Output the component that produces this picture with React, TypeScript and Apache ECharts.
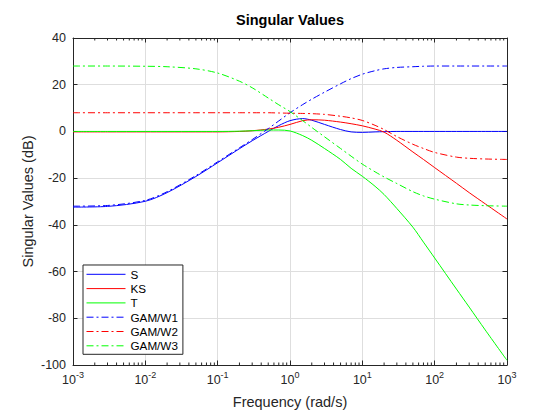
import React, { useEffect, useRef } from "react";
import * as echarts from "echarts";

// Frequency grid (rad/s)
const FREQ = [0.001, 0.003, 0.01, 0.02, 0.05, 0.1, 0.2, 0.3, 0.5, 0.7, 1, 1.5, 2, 3, 5, 7, 10, 15, 20, 30, 50, 70, 100, 200, 300, 500, 1000];

// Singular values (dB)
const S_DB = [-32.4, -32.1, -29.9, -26.2, -19.3, -13.4, -7.4, -4.0, 0.0, 2.5, 4.6, 5.5, 4.8, 3.0, 0.8, -0.2, -0.4, -0.2, -0.1, 0, 0, 0, 0, 0, 0, 0, 0];
const KS_DB = [-0.2, -0.2, -0.2, -0.2, -0.2, -0.2, 0, 0.3, 1.0, 1.8, 3.0, 4.6, 5.0, 4.8, 4.0, 3.3, 2.4, 1.0, -0.3, -3.8, -8.8, -12, -15.5, -22.2, -26.2, -31, -37.5];
const T_DB = [0, 0, 0, 0, 0, 0, 0.1, 0.3, 0.6, 0.6, 0.2, -1.8, -3.8, -7.3, -12, -15.8, -19.2, -23.5, -27, -33, -41, -47.4, -54.2, -67.5, -75.2, -85, -98];
const W1_DB = [-32.0, -31.7, -29.5, -25.8, -18.9, -13.0, -7.0, -3.5, 1.2, 4.5, 8.0, 11.5, 13.8, 16.8, 20.4, 22.6, 24.5, 26.0, 26.8, 27.4, 27.7, 27.9, 28, 28, 28, 28, 28];
const W2_DB = [8, 8, 8, 8, 8, 8, 8, 8, 8, 7.9, 7.8, 7.7, 7.6, 7.3, 6.5, 5.8, 4.7, 2.6, 0.8, -2.2, -5.5, -7.3, -9.0, -11, -11.5, -11.8, -12];
const W3_DB = [28, 28, 27.9, 27.7, 26.8, 25, 21.5, 18.7, 14.3, 11.4, 8.5, 4.6, 1.7, -2.3, -7.3, -10.6, -14, -17.3, -19.5, -22.3, -25.8, -27.6, -29, -31, -31.5, -31.8, -32];

const SERIES_NAMES = ["S", "KS", "T", "GAM/W1", "GAM/W2", "GAM/W3"];
const SERIES_COLORS = ["#0000ff", "#ff0000", "#00ff00", "#0000ff", "#ff0000", "#00ff00"];
const SERIES_DATA = [S_DB, KS_DB, T_DB, W1_DB, W2_DB, W3_DB];
const SERIES_DASHED = [false, false, false, true, true, true];

// Axes
const X_DECADE_MIN = -3;
const X_DECADE_MAX = 3;
const Y_MIN = -100;
const Y_MAX = 40;
const Y_STEP = 20;

const FONT = "'Liberation Sans', Arial, Helvetica, sans-serif";
const AXIS_COLOR = "#262626";
const GRID_COLOR = "#dedede";
const DASH_DOT = [7, 3, 2, 3];

const MINOR_TICKS: number[] = [];
for (let d = X_DECADE_MIN; d < X_DECADE_MAX; d++) {
  for (let k = 2; k <= 9; k++) MINOR_TICKS.push(d + Math.log10(k));
}

export default function App() {
  const ref = useRef<HTMLDivElement>(null);
  useEffect(() => {
    const chart = echarts.init(ref.current!, null, { renderer: "svg" });
    const lineSeries = SERIES_NAMES.map((name, i) => ({
      name,
      type: "line",
      xAxisIndex: 0,
      yAxisIndex: 0,
      data: FREQ.map((f, j) => [Math.log10(f), SERIES_DATA[i][j]]),
      symbol: "none",
      showSymbol: false,
      smooth: 0.3,
      z: 5 + i,
      lineStyle: {
        color: SERIES_COLORS[i],
        width: 1,
        type: SERIES_DASHED[i] ? DASH_DOT : "solid",
      },
      itemStyle: { color: SERIES_COLORS[i] },
    }));

    const option: any = {
      animation: false,
      backgroundColor: "#ffffff",
      grid: { left: 73, right: 53, top: 38, bottom: 55, containLabel: false },
      xAxis: [
        {
          type: "value",
          min: X_DECADE_MIN,
          max: X_DECADE_MAX,
          interval: 1,
          position: "bottom",
          axisLine: { show: true, onZero: false, lineStyle: { color: AXIS_COLOR, width: 1 } },
          axisTick: { show: true, inside: true, length: 4.5, lineStyle: { color: AXIS_COLOR } },
          splitLine: { show: true, lineStyle: { color: GRID_COLOR, width: 1 } },
          axisLabel: {
            show: true,
            margin: 5,
            showMinLabel: true,
            showMaxLabel: true,
            formatter: (v: number) => `{b|10}{s|${Math.round(v)}}`,
            rich: {
              b: { fontSize: 12.5, color: AXIS_COLOR, fontFamily: FONT },
              s: { fontSize: 9, color: AXIS_COLOR, fontFamily: FONT, padding: [0, 0, 10, 0] },
            },
          },
        },
        {
          type: "value",
          min: X_DECADE_MIN,
          max: X_DECADE_MAX,
          interval: 1,
          position: "top",
          axisLine: { show: true, onZero: false, lineStyle: { color: AXIS_COLOR, width: 1 } },
          axisTick: { show: true, inside: true, length: 4.5, lineStyle: { color: AXIS_COLOR } },
          splitLine: { show: false },
          axisLabel: { show: false },
        },
      ],
      yAxis: [
        {
          type: "value",
          min: Y_MIN,
          max: Y_MAX,
          interval: Y_STEP,
          position: "left",
          axisLine: { show: true, onZero: false, lineStyle: { color: AXIS_COLOR, width: 1 } },
          axisTick: { show: true, inside: true, length: 4.5, lineStyle: { color: AXIS_COLOR } },
          splitLine: { show: true, lineStyle: { color: GRID_COLOR, width: 1 } },
          axisLabel: { show: true, margin: 7, fontSize: 12.5, color: AXIS_COLOR, fontFamily: FONT },
        },
        {
          type: "value",
          min: Y_MIN,
          max: Y_MAX,
          interval: Y_STEP,
          position: "right",
          axisLine: { show: true, onZero: false, lineStyle: { color: AXIS_COLOR, width: 1 } },
          axisTick: { show: true, inside: true, length: 4.5, lineStyle: { color: AXIS_COLOR } },
          splitLine: { show: false },
          axisLabel: { show: false },
        },
      ],
      legend: {
        orient: "vertical",
        left: 83,
        top: 265,
        padding: [3.3, 5, 2.5, 3],
        itemWidth: 39,
        itemHeight: 10,
        itemGap: 2.3,
        borderColor: AXIS_COLOR,
        borderWidth: 1,
        borderRadius: 0,
        backgroundColor: "#ffffff",
        itemStyle: { opacity: 0 },
        lineStyle: { width: 1 },
        textStyle: { fontSize: 11.7, color: "#000000", lineHeight: 12, fontFamily: FONT },
        data: SERIES_NAMES,
        z: 20,
      },
      graphic: [
        {
          type: "text",
          x: 290,
          y: 20,
          style: {
            text: "Singular Values",
            textAlign: "center",
            textVerticalAlign: "middle",
            fontSize: 14.5,
            fontWeight: "bold",
            fontFamily: FONT,
            fill: "#000000",
          },
        },
        {
          type: "text",
          x: 290,
          y: 402,
          style: {
            text: "Frequency (rad/s)",
            textAlign: "center",
            textVerticalAlign: "middle",
            fontSize: 14.5,
            fontFamily: FONT,
            fill: AXIS_COLOR,
          },
        },
        {
          type: "text",
          x: 27.5,
          y: 201.5,
          rotation: Math.PI / 2,
          style: {
            text: "Singular Values (dB)",
            textAlign: "center",
            textVerticalAlign: "middle",
            fontSize: 14.5,
            fontFamily: FONT,
            fill: AXIS_COLOR,
          },
        },
      ],
      series: [
        ...lineSeries,
        {
          type: "custom",
          name: "minorTicks",
          xAxisIndex: 0,
          yAxisIndex: 0,
          silent: true,
          clip: false,
          z: 30,
          data: MINOR_TICKS.map((v) => [v, Y_MIN]),
          renderItem: (_params: any, api: any) => {
            const v = api.value(0);
            const pb = api.coord([v, Y_MIN]);
            const pt = api.coord([v, Y_MAX]);
            return {
              type: "group",
              children: [
                { type: "line", shape: { x1: pb[0], y1: pb[1], x2: pb[0], y2: pb[1] - 2.5 }, style: { stroke: AXIS_COLOR, lineWidth: 1 } },
                { type: "line", shape: { x1: pt[0], y1: pt[1], x2: pt[0], y2: pt[1] + 2.5 }, style: { stroke: AXIS_COLOR, lineWidth: 1 } },
              ],
            };
          },
        },
      ],
    };
    chart.setOption(option);
    return () => chart.dispose();
  }, []);
  return <div ref={ref} style={{ position: "fixed", left: 0, top: 0, width: 560, height: 420 }} />;
}
